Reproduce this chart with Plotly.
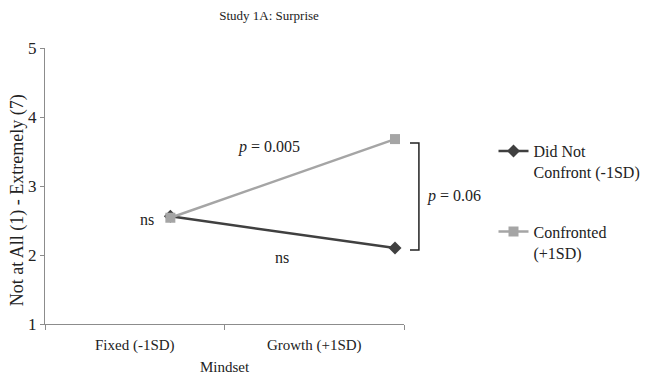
import plotly.graph_objects as go

categories = ["Fixed (-1SD)", "Growth (+1SD)"]
did_not_confront = [2.56, 2.10]
confronted = [2.54, 3.68]
series_names = ["Did Not<br>Confront (-1SD)", "Confronted<br>(+1SD)"]
y_title = "Not at All (1) - Extremely (7)"

FONT = "Liberation Serif, Times New Roman, serif"
DARK = "#404040"
LIGHT = "#a5a5a5"
AX = "#8c8c8c"
TXT = "#222222"

def f(size):
    return dict(family=FONT, size=size, color=TXT)

fig = go.Figure()
# invisible trace that carries the labelled category axis
fig.add_trace(go.Scatter(x=categories, y=[None, None], mode="markers",
                         showlegend=False, hoverinfo="skip", xaxis="x"))
fig.add_trace(go.Scatter(x=categories, y=did_not_confront, name=series_names[0],
                         mode="lines+markers", xaxis="x2", legendgroup="a",
                         line=dict(color=DARK, width=2.5),
                         marker=dict(symbol="diamond", size=10, color=DARK)))
fig.add_trace(go.Scatter(x=categories, y=confronted, name=series_names[1],
                         mode="lines+markers", xaxis="x2", legendgroup="b",
                         line=dict(color=LIGHT, width=2.5),
                         marker=dict(symbol="square", size=10, color=LIGHT)))

# page body adds an 8px margin; figure sized/offset to compensate
fig.update_layout(
    width=649, height=373,
    margin=dict(l=37, r=251, t=40, b=57),
    paper_bgcolor="white", plot_bgcolor="white",
    font=f(16),
    title=dict(text="Study 1A: Surprise", x=261 / 649, xanchor="center",
               xref="container", y=1 - 7 / 373, yanchor="middle",
               font=f(13)),
    xaxis=dict(type="category", categoryorder="array", categoryarray=categories,
               tickvals=categories, ticktext=categories, automargin=False,
               range=[-0.5, 1.5], showline=True, linecolor=AX, linewidth=1,
               ticks="outside", tickson="boundaries", ticklen=5, tickcolor=AX,
               ticklabelstandoff=7,
               showgrid=False, zeroline=False, tickfont=f(15),
               title=dict(text="Mindset", standoff=8, font=f(15))),
    xaxis2=dict(type="category", categoryorder="array", categoryarray=categories,
                overlaying="x", range=[-0.558, 1.04], visible=False),
    yaxis=dict(range=[1, 5], dtick=1, showline=True, linecolor=AX, linewidth=1,
               ticks="outside", ticklen=4, tickcolor=AX, showgrid=False,
               zeroline=False, tickfont=f(17), automargin=False),
    legend=dict(x=(496 - 45) / 361, xanchor="left", y=1 - (134 - 48) / 276,
                yanchor="top", font=f(16), traceorder="grouped",
                tracegroupgap=36, itemwidth=30, valign="top",
                bgcolor="rgba(0,0,0,0)"),
    showlegend=True,
)

def px(xp):
    return (xp - 45) / 361

def py(yp):
    return 1 - (yp - 48) / 276

# y-axis title placed as rotated text
fig.add_annotation(text=y_title, xref="paper", yref="paper",
                   x=px(17), y=py(200), textangle=-90, showarrow=False,
                   xanchor="center", yanchor="middle", font=f(18))

ann = [
    dict(text="<i>p</i> = 0.005", x=270, y=147),
    dict(text="ns", x=148, y=219),
    dict(text="ns", x=283, y=257),
    dict(text="<i>p</i> = 0.06", x=456, y=196),
]
for a in ann:
    fig.add_annotation(text=a["text"], xref="paper", yref="paper",
                       x=px(a["x"]), y=py(a["y"]),
                       showarrow=False, xanchor="center", yanchor="middle",
                       font=f(16))

# bracket
fig.add_shape(type="path", xref="paper", yref="paper",
              path=f"M {px(412)} {py(143)} L {px(421)} {py(143)} L {px(421)} {py(250)} L {px(412)} {py(250)}",
              line=dict(color=TXT, width=1.5))

fig.write_html("out.html")
